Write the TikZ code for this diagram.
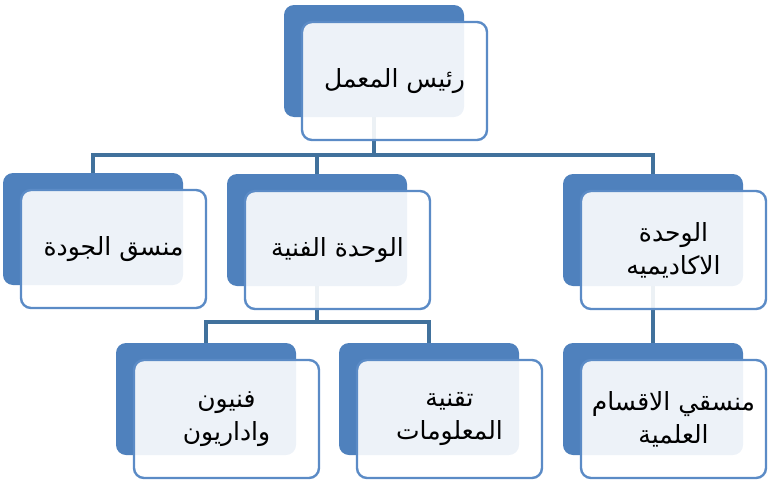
\documentclass[tikz,border=0pt]{standalone}
\usepackage{fontspec}
\newfontfamily\arabicfont[Script=Arabic]{DejaVu Sans}
\TeXXeTstate=1
\definecolor{backblue}{HTML}{4F81BD}
\definecolor{lineblue}{HTML}{41719C}
\definecolor{frontline}{HTML}{5B8BC6}
\tikzset{
  backbox/.style={draw=none, fill=backblue, rounded corners=10pt, minimum width=180pt, minimum height=112pt, inner sep=0pt},
  frontbox/.style={draw=frontline, line width=2.4pt, fill=white, fill opacity=0.9, text opacity=1, rounded corners=10pt, minimum width=185pt, minimum height=118pt, inner sep=0pt, align=center, font=\arabicfont\fontsize{25}{33}\selectfont},
  conn/.style={draw=lineblue, line width=3.2pt}
}
\begin{document}
\begin{tikzpicture}[x=1pt,y=-1pt]
\useasboundingbox (0,0) rectangle (768,479);
% back boxes
\node[backbox] (b0) at (374,61) {};
\node[backbox] (b1) at (93,229) {};
\node[backbox] (b2) at (317,230) {};
\node[backbox] (b3) at (653,230) {};
\node[backbox] (b4) at (206,399) {};
\node[backbox] (b5) at (429,399) {};
\node[backbox] (b6) at (653,399) {};
% connectors
\coordinate (j0) at (374,155);
\coordinate (j2) at (317,322);
\draw[conn] (b0.south) -- (j0);
\draw[conn] (b1.north) |- (j0) -| (b3.north);
\draw[conn] (j0) -| (b2.north);
\draw[conn] (b2.south) -- (j2);
\draw[conn] (b4.north) |- (j2) -| (b5.north);
\draw[conn] (b3.south) -- (b6.north);
% front boxes
\node[frontbox] (f0) at (394.5,81) {\beginR رئيس المعمل\endR};
\node[frontbox] (f1) at (113.5,249) {\beginR منسق الجودة\endR};
\node[frontbox] (f2) at (337.5,250) {\beginR الوحدة الفنية\endR};
\node[frontbox] (f3) at (673.5,250) {\beginR الوحدة\endR\\\beginR الاكاديميه\endR};
\node[frontbox] (f4) at (226.5,419) {\beginR فنيون\endR\\\beginR واداريون\endR};
\node[frontbox] (f5) at (449.5,419) {\beginR تقنية\endR\\\beginR المعلومات\endR};
\node[frontbox] (f6) at (673.5,419) {\beginR منسقي الاقسام\endR\\\beginR العلمية\endR};
\end{tikzpicture}
\end{document}
